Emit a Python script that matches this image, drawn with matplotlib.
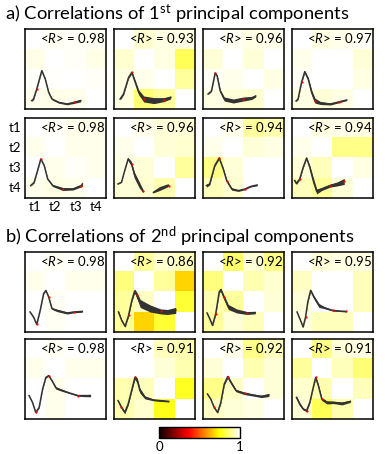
import numpy as np
import matplotlib
matplotlib.use("Agg")
import matplotlib.pyplot as plt

plt.rcParams["font.family"] = ["Lato", "DejaVu Sans"]
plt.rcParams["mathtext.fontset"] = "custom"
plt.rcParams["mathtext.rm"] = "Lato"
plt.rcParams["mathtext.it"] = "Lato:italic"

TRACE = "#333333"

# <R> per panel, row by row (a1, a2, b1, b2)
R_VALUES = [0.98, 0.93, 0.96, 0.97,
            0.98, 0.96, 0.94, 0.94,
            0.98, 0.86, 0.92, 0.95,
            0.98, 0.91, 0.92, 0.91]

# 4x4 correlation matrices (t1..t4)
MATRICES = [
    [[1, .985, .99, .985], [.975, 1, .99, .975], [.995, .995, 1, .99], [.98, .975, .98, 1]],
    [[1, .95, .97, .97], [.95, 1, .97, .83], [.97, .98, 1, .9], [.97, .86, .9, 1]],
    [[1, .985, .97, .98], [.96, 1, .96, 1], [.985, .98, 1, .97], [.97, .96, .95, 1]],
    [[1, .97, .98, .99], [.98, 1, 1, .96], [.99, 1, 1, .97], [.97, .96, .97, 1]],
    [[1, .99, .98, .98], [.98, 1, .98, .98], [1, .98, .99, .98], [.98, .97, .98, 1]],
    [[1, .98, .96, .96], [.98, 1, .96, .95], [.97, .96, 1, .9], [.96, .95, .92, 1]],
    [[1, .98, .9, .92], [.98, 1, .96, .97], [.88, .96, 1, 1], [.93, .95, 1, 1]],
    [[1, .97, .98, .97], [.98, 1, .88, .88], [.96, .93, 1, .97], [.93, .9, .96, 1]],
    [[1, .985, .995, .995], [.98, 1, .98, .98], [1, .985, 1, 1], [1, .985, 1, 1]],
    [[1, .9, .95, .93], [.87, 1, .9, .68], [.9, .94, 1, .8], [.9, .68, .8, 1]],
    [[1, .85, .96, .88], [.87, 1, .92, .95], [.92, .9, 1, .96], [.9, .96, .93, 1]],
    [[1, .96, .97, .97], [.94, 1, 1, .93], [.96, 1, 1, .93], [.97, .93, .93, 1]],
    [[1, .985, 1, 1], [.98, 1, .98, .98], [1, .98, 1, 1], [1, .98, 1, 1]],
    [[1, 1, .93, .92], [1, 1, .96, .92], [.92, .93, 1, .78], [.92, .95, .77, 1]],
    [[1, .98, .88, .93], [.96, 1, .92, .96], [.88, .94, 1, .96], [.94, .96, .97, 1]],
    [[1, .88, .96, .97], [.9, 1, .93, .86], [.95, .92, 1, .93], [.96, .83, .92, 1]],
]

nan = np.nan
# waveform traces in cell units (x right, y down), with ribbon width
TRACE_X = [
    [.33, .42, .58, .83, 1.0, 1.17, 1.33, 1.67, 2.08, 2.42, 2.75],
    [.3, .47, .72, .88, 1.05, 1.22, 1.47, 1.97, 2.47, 2.8],
    [.25, .42, .6, .7, .85, 1.05, 1.5, 2.0, 2.4, 2.6],
    [.2, .3, .47, .63, .8, .97, 1.13, 1.4, 1.9, 2.3, 2.7],
    [.28, .45, .62, .78, .95, 1.12, 1.37, 1.87, 2.37, 2.78, 2.83],
    [.2, .37, .53, .7, .87, 1.03, 1.28, 1.45, 1.7, 1.95, 2.28, 2.7],
    [.17, .33, .58, .8, 1.0, 1.17, 1.42, 1.75, 2.08, 2.33, 2.67],
    [.13, .22, .38, .55, .72, .88, 1.05, 1.22, 1.47, 1.88, 2.22, 2.58],
    [.25, .42, .58, .75, .92, 1.03, 1.17, 1.33, 1.58, 2.08, 2.42, 2.83],
    [.22, .38, .55, .72, .88, 1.02, 1.13, 1.3, 1.8, 2.3, 2.63, 3.05],
    [.2, .33, .47, .63, .8, .88, 1.03, 1.25, 1.67, 2.17, 2.58],
    [.25, .42, .55, .67, .78, .92, 1.08, 1.33, 1.58, 2.0, 2.33, 2.67],
    [.2, .37, .53, .7, .87, 1.03, 1.17, 1.33, 1.53, 1.78, 2.2, 2.62, 2.87, 3.23],
    [.2, .37, .53, .7, .87, 1.03, 1.15, 1.28, 1.53, 1.95, 2.28, 2.7],
    [.22, .38, .55, .72, .88, 1.05, 1.22, 1.38, 1.63, 2.05, 2.47, 2.88, 3.25],
    [.22, .38, .55, .72, .88, 1.05, 1.17, 1.3, 1.47, 1.72, 2.05, 2.47, 2.88],
]
TRACE_Y = [
    [3.58, 3.5, 3.0, 2.08, 2.5, 3.17, 3.5, 3.67, 3.75, 3.67, 3.58],
    [3.5, 3.25, 2.42, 2.17, 2.67, 3.17, 3.5, 3.58, 3.53, 3.42],
    [3.25, 3.1, 2.2, 2.35, 3.1, 3.5, 3.6, 3.5, 3.45, 3.35],
    [3.6, 3.5, 2.67, 2.13, 2.5, 3.17, 3.58, 3.7, 3.75, 3.65, 3.55],
    [3.38, 3.22, 2.63, 2.05, 2.38, 3.05, 3.38, 3.55, 3.55, 3.38, 3.3],
    [3.3, 3.22, 2.63, 2.05, 2.3, 2.88, 3.38, 3.67, nan, 3.72, 3.55, 3.38],
    [3.38, 3.3, 2.38, 2.0, 2.55, 3.13, 3.55, 3.63, 3.55, 3.43, 3.35],
    [3.13, 3.27, 3.05, 2.47, 2.0, 2.47, 3.13, 3.67, 3.55, 3.38, 3.3, 3.17],
    [3.0, 3.25, 3.62, 2.92, 2.08, 1.92, 2.25, 2.83, 2.92, 3.05, 3.0, 2.97],
    [3.0, 3.42, 3.72, 3.17, 2.42, 1.95, 2.17, 2.58, 2.83, 2.97, 3.0, 2.92],
    [3.05, 3.33, 3.67, 3.08, 2.0, 1.88, 2.25, 2.75, 2.95, 3.05, 3.03],
    [3.0, 3.42, 3.75, 3.25, 2.5, 1.92, 2.25, 2.67, 2.78, 2.92, 2.95, 2.97],
    [2.83, 3.17, 3.67, 3.42, 2.5, 1.92, 1.83, 2.08, 2.45, 2.55, 2.7, 2.83, 2.83, 2.83],
    [3.08, 3.42, 3.67, 3.25, 2.58, 1.92, 2.08, 2.58, 2.92, 3.05, 3.08, 3.12],
    [2.75, 3.0, 3.42, 3.67, 3.17, 2.25, 1.88, 2.17, 2.58, 2.72, 2.8, 2.87, 2.8],
    [2.92, 3.25, 3.5, 3.58, 3.17, 2.42, 1.92, 2.33, 3.0, 3.17, 3.17, 3.22, 3.12],
]
TRACE_W = [
    [.08, .08, .05, .05, .05, .06, .08, .08, .08, .1, .12],
    [.1, .1, .1, .12, .2, .25, .3, .3, .2, .15],
    [.05, .05, .05, .08, .15, .2, .2, .2, .15, .1],
    [.05, .05, .08, .1, .15, .25, .25, .15, .1, .08, .06],
    [.05, .05, .04, .05, .05, .06, .1, .15, .1, .12, .25],
    [.05, .05, .08, .12, .25, .3, .3, .15, nan, .1, .2, .15],
    [.15, .1, .08, .1, .12, .12, .12, .08, .06, .05, .08],
    [.15, .1, .08, .08, .08, .2, .3, .25, .15, .15, .2, .3],
    [.04, .04, .05, .04, .05, .05, .06, .08, .12, .1, .08, .08],
    [.12, .08, .08, .1, .12, .2, .3, .4, .35, .25, .25, .3],
    [.06, .06, .06, .1, .12, .15, .2, .25, .2, .15, .12],
    [.03, .04, .05, .05, .08, .1, .15, .2, .1, .06, .05, .06],
    [.04, .05, .05, .05, .05, .06, .06, .08, .12, .1, .06, .06, .1, .12],
    [.08, .12, .15, .12, .12, .2, .25, .25, .15, .08, .08, .06],
    [.04, .05, .08, .08, .1, .12, .15, .15, .12, .12, .1, .12, .15],
    [.15, .15, .1, .12, .08, .06, .12, .15, .15, .15, .12, .15, .1],
]
RED_IDX = [
    [2, 9], [3, 6, 8], [2, 7], [2, 6, 9],
    [3, 7, 9], [4, 7, 11], [3, 5, 8], [2, 9, 11],
    [2, 6, 10], [3, 6, 9], [3, 6, 9], [3, 9, 11],
    [2, 6, 11], [1, 5], [2, 6, 9], [3, 6, 8],
]

TICKS = ["t1", "t2", "t3", "t4"]

W, H = 385, 454
fig = plt.figure(figsize=(W / 100, H / 100), dpi=100)


def px_axes(x, y, w, h):
    return fig.add_axes([x / W, 1 - (y + h) / H, w / W, h / H])


col_left = [25, 114, 203, 292]
row_top = [29, 118, 252, 339]

for k in range(16):
    r, c = divmod(k, 4)
    ax = px_axes(col_left[c], row_top[r], 81, 80)
    im = ax.imshow(np.array(MATRICES[k]), cmap="hot", vmin=0, vmax=1,
                   extent=(0, 4, 4, 0), interpolation="nearest", aspect="auto")
    x = np.array(TRACE_X[k])
    y = np.array(TRACE_Y[k])
    w = np.array(TRACE_W[k])
    ax.fill_between(x, y - w / 2, y + w / 2, color=TRACE, lw=0)
    ax.plot(x, y, color=TRACE, lw=1.1)
    ri = RED_IDX[k]
    ax.plot(x[ri], y[ri], "o", ms=1.6, color="red", mew=0)
    ax.text(3.95, 0.12, r"<$\it{R}$> = %.2f" % R_VALUES[k], ha="right", va="top",
            fontsize=9.5)
    ax.set_xlim(0, 4)
    ax.set_ylim(4, 0)
    ax.set_xticks([])
    ax.set_yticks([])
    for s in ax.spines.values():
        s.set_linewidth(1.1)
    if k == 4:
        for i, t in enumerate(TICKS):
            ax.text(-0.2, i + 0.5, t, ha="right", va="center", fontsize=9.5)
            ax.text(i + 0.5, 4.15, t, ha="center", va="top", fontsize=9.5)

fig.text(5 / W, 1 - 14 / H, r"a) Correlations of 1$^{\rm st}$ principal components",
         ha="left", va="center", fontsize=13.2)
fig.text(5 / W, 1 - 237 / H, r"b) Correlations of 2$^{\rm nd}$ principal components",
         ha="left", va="center", fontsize=13.2)

cax = px_axes(159, 427, 81, 11)
cb = fig.colorbar(im, cax=cax, orientation="horizontal", ticks=[0, 1])
cb.ax.tick_params(length=0, labelsize=9.5, pad=2)
cb.outline.set_linewidth(1.0)

fig.savefig("out.png", dpi=100)
